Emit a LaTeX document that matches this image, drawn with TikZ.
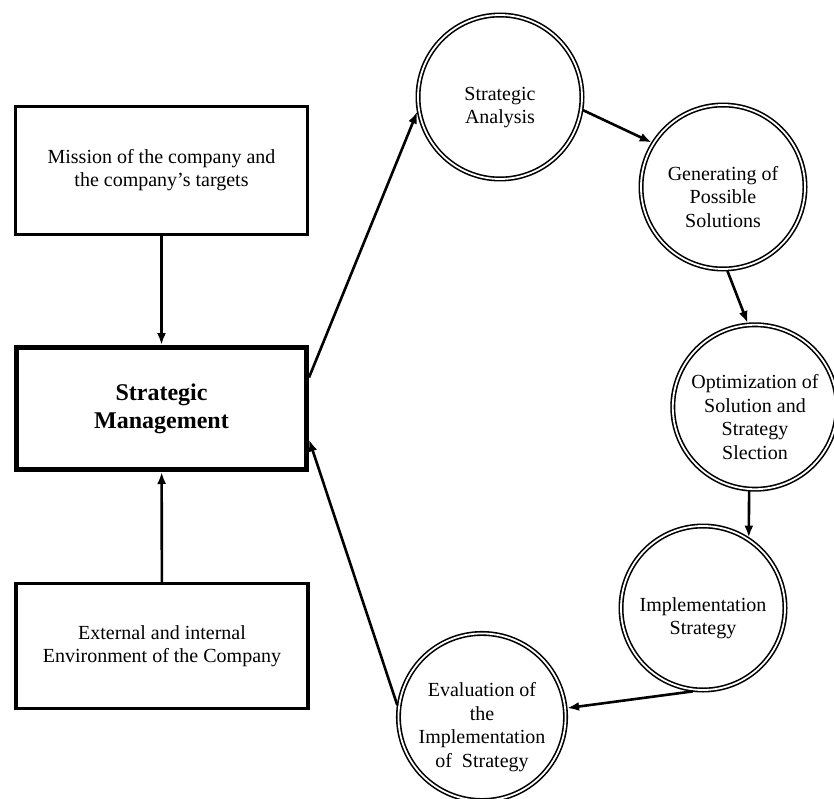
\documentclass[tikz,border=0pt]{standalone}
\usepackage{fontspec}
\setmainfont{Liberation Serif}
\usetikzlibrary{arrows.meta}

\newcommand{\pad}{\rule{0pt}{34pt}}

\begin{document}
\begin{tikzpicture}[x=1pt,y=-1pt,
  box/.style={draw,line width=3.2pt,minimum width=292pt,minimum height=128pt,align=center,font=\fontsize{20}{23}\selectfont},
  stage/.style={circle,draw,double,double distance=1.8pt,line width=1.6pt,minimum size=164pt,inner sep=0pt,outer sep=2pt,align=center,font=\fontsize{20}{23.5}\selectfont},
  link/.style={-{Latex[length=12pt,width=9pt]},line width=2.6pt}]

\useasboundingbox (0,0) rectangle (834,799);

%left column
\node[box] (mission) at (161.5,170.5) {Mission of the company and\\the company's targets};
\node[box,line width=5pt,minimum width=290pt,minimum height=122pt,font=\bfseries\fontsize{24}{28}\selectfont] (sm) at (161.5,408.5) {Strategic\\Management};
\node[box,minimum height=125pt] (env) at (162,646) {External and internal\\Environment of the Company};

%cycle
\node[stage] (sa) at (500,97) {\pad Strategic\\Analysis};
\node[stage] (gen) at (723,187) {\pad Generating of\\Possible\\Solutions};
\node[stage] (opt) at (755,407) {\pad Optimization of\\Solution and\\Strategy\\Slection};
\node[stage] (impl) at (703,608) {\pad Implementation\\Strategy};
\node[stage] (eval) at (482,717) {\pad Evaluation of\\the\\Implementation\\of~ Strategy};

\draw[link] (mission) -- (sm);
\draw[link] (env) -- (sm);

\draw[link] ([yshift=31pt]sm.east) -- (sa.190);
\draw[link] (sa.351) -- (gen.148);
\draw[link] (gen.273) -- (opt.95);
\draw[link] (opt.266) -- (impl.57);
\draw[link] (impl.263) -- (eval.6);
\draw[link] (eval.172) -- ([yshift=-31pt]sm.east);

\end{tikzpicture}
\end{document}
